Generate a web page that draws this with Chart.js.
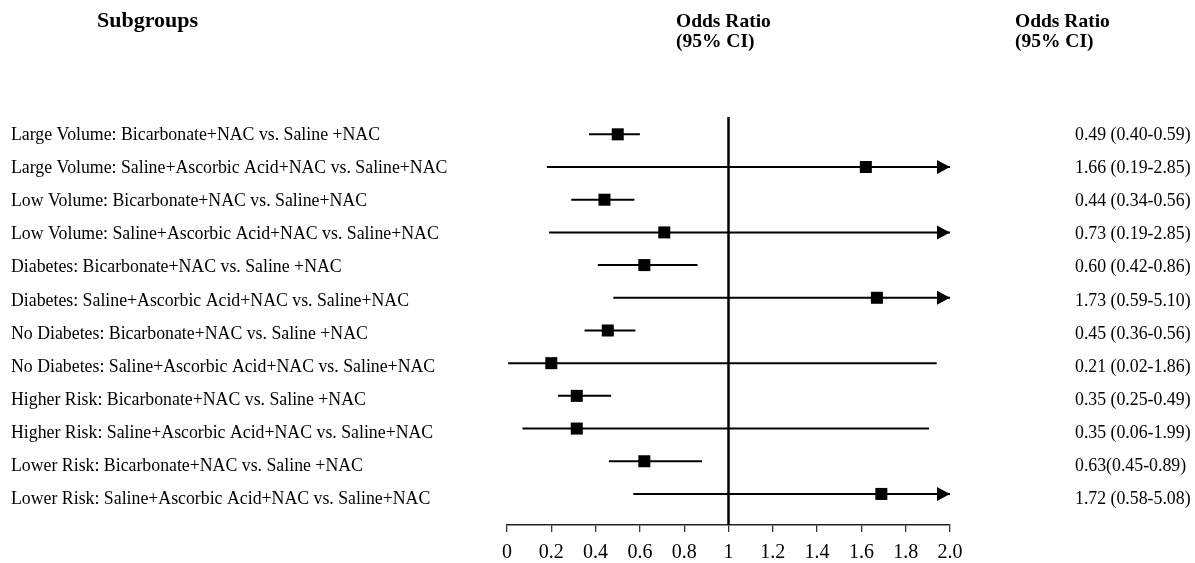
<!DOCTYPE html>
<html>
<head>
<meta charset="utf-8">
<script src="https://cdn.jsdelivr.net/npm/chart.js@4"></script>
<style>
  html, body { margin: 0; padding: 0; background: #fff; }
  #wrap { width: 1195px; height: 563px; position: relative; }
</style>
</head>
<body>
<div id="wrap"><canvas id="c"></canvas></div>
<script>
// ---- data ----
const rowLabels = [
  "Large Volume: Bicarbonate+NAC vs. Saline +NAC",
  "Large Volume: Saline+Ascorbic Acid+NAC vs. Saline+NAC",
  "Low Volume: Bicarbonate+NAC vs. Saline+NAC",
  "Low Volume: Saline+Ascorbic Acid+NAC vs. Saline+NAC",
  "Diabetes: Bicarbonate+NAC vs. Saline +NAC",
  "Diabetes: Saline+Ascorbic Acid+NAC vs. Saline+NAC",
  "No Diabetes: Bicarbonate+NAC vs. Saline +NAC",
  "No Diabetes: Saline+Ascorbic Acid+NAC vs. Saline+NAC",
  "Higher Risk: Bicarbonate+NAC vs. Saline +NAC",
  "Higher Risk: Saline+Ascorbic Acid+NAC vs. Saline+NAC",
  "Lower Risk: Bicarbonate+NAC vs. Saline +NAC",
  "Lower Risk: Saline+Ascorbic Acid+NAC vs. Saline+NAC"
];
const orLabels = [
  "0.49 (0.40-0.59)", "1.66 (0.19-2.85)", "0.44 (0.34-0.56)", "0.73 (0.19-2.85)",
  "0.60 (0.42-0.86)", "1.73 (0.59-5.10)", "0.45 (0.36-0.56)", "0.21 (0.02-1.86)",
  "0.35 (0.25-0.49)", "0.35 (0.06-1.99)", "0.63(0.45-0.89)", "1.72 (0.58-5.08)"
];
// values as drawn in the plot
const orPoint = [0.50, 1.62, 0.44, 0.71, 0.62, 1.67, 0.455, 0.20, 0.315, 0.315, 0.62, 1.69];
const ciLow   = [0.37, 0.18, 0.29, 0.19, 0.41, 0.48, 0.35, 0.005, 0.23, 0.07, 0.46, 0.57];
const ciHigh  = [0.60, 2.85, 0.575, 2.85, 0.86, 5.10, 0.58, 1.94, 0.47, 1.905, 0.88, 5.08];
const xTicks = [0, 0.2, 0.4, 0.6, 0.8, 1, 1.2, 1.4, 1.6, 1.8, 2.0];
const xTickLabels = ["0", "0.2", "0.4", "0.6", "0.8", "1", "1.2", "1.4", "1.6", "1.8", "2.0"];
const refValue = 1;

// ---- config ----
const X_MIN = 0, X_MAX = 2, Y_MIN = 0.47, Y_MAX = 12.95;
const SERIF = "'Liberation Serif', 'Times New Roman', serif";

const datasets = [];
rowLabels.forEach((_, i) => {
  datasets.push({
    data: [{x: ciLow[i], y: i + 1}, {x: Math.min(ciHigh[i], X_MAX), y: i + 1}],
    showLine: true, borderColor: '#000', borderWidth: 2, pointRadius: 0, fill: false
  });
});
datasets.push({
  data: [{x: refValue, y: Y_MIN}, {x: refValue, y: Y_MAX}],
  showLine: true, borderColor: '#000', borderWidth: 2.5, pointRadius: 0
});
datasets.push({
  data: orPoint.map((v, i) => ({x: v, y: i + 1})),
  showLine: false, pointStyle: 'rect', pointRadius: 8.5,
  backgroundColor: '#000', borderColor: '#000', borderWidth: 0
});

const overlay = {
  id: 'overlay',
  afterDatasetsDraw(chart) {
    const ctx = chart.ctx, xs = chart.scales.x, ys = chart.scales.y;
    ctx.save();
    ctx.fillStyle = '#000';
    ciHigh.forEach((h, i) => {
      if (h > X_MAX) {
        const tip = xs.getPixelForValue(X_MAX);
        const y = ys.getPixelForValue(i + 1);
        ctx.beginPath();
        ctx.moveTo(tip, y);
        ctx.lineTo(tip - 13, y - 7);
        ctx.lineTo(tip - 13, y + 7);
        ctx.closePath();
        ctx.fill();
      }
    });
    ctx.restore();
  },
  afterDraw(chart) {
    const ctx = chart.ctx, ys = chart.scales.y;
    ctx.save();
    ctx.fillStyle = '#000';
    ctx.textBaseline = 'alphabetic';
    ctx.textAlign = 'left';
    ctx.font = "bold 22px " + SERIF;
    ctx.fillText("Subgroups", 97, 27);
    ctx.font = "bold 19.5px " + SERIF;
    ctx.fillText("Odds Ratio", 676, 27);
    ctx.fillText("(95% CI)", 676, 47);
    ctx.fillText("Odds Ratio", 1015, 27);
    ctx.fillText("(95% CI)", 1015, 47);
    ctx.font = "17.8px " + SERIF;
    rowLabels.forEach((t, i) => {
      const y = ys.getPixelForValue(i + 1) + 6 + i * 0.35;
      ctx.fillText(t, 11, y);
      ctx.fillText(orLabels[i], 1075, y);
    });
    ctx.restore();
  }
};

new Chart(document.getElementById('c'), {
  type: 'scatter',
  data: { datasets },
  plugins: [overlay],
  options: {
    responsive: true, maintainAspectRatio: false, animation: false,
    layout: { padding: { left: 507, right: 245, top: 117, bottom: 0 } },
    plugins: { legend: { display: false }, tooltip: { enabled: false } },
    scales: {
      x: {
        type: 'linear', min: X_MIN, max: X_MAX,
        afterBuildTicks: (s) => { s.ticks = xTicks.map(v => ({ value: v })); },
        afterFit: (s) => { s.height = 38; },
        ticks: {
          callback: (v, i) => xTickLabels[i],
          color: '#000', font: { family: SERIF, size: 20 }, padding: 9,
          maxRotation: 0, autoSkip: false
        },
        grid: { drawOnChartArea: false, drawTicks: true, tickLength: 7, color: '#333', lineWidth: 1.3 },
        border: { display: true, color: '#222', width: 1.5 }
      },
      y: { type: 'linear', min: Y_MIN, max: Y_MAX, reverse: true, display: false }
    }
  }
});
</script>
</body>
</html>
